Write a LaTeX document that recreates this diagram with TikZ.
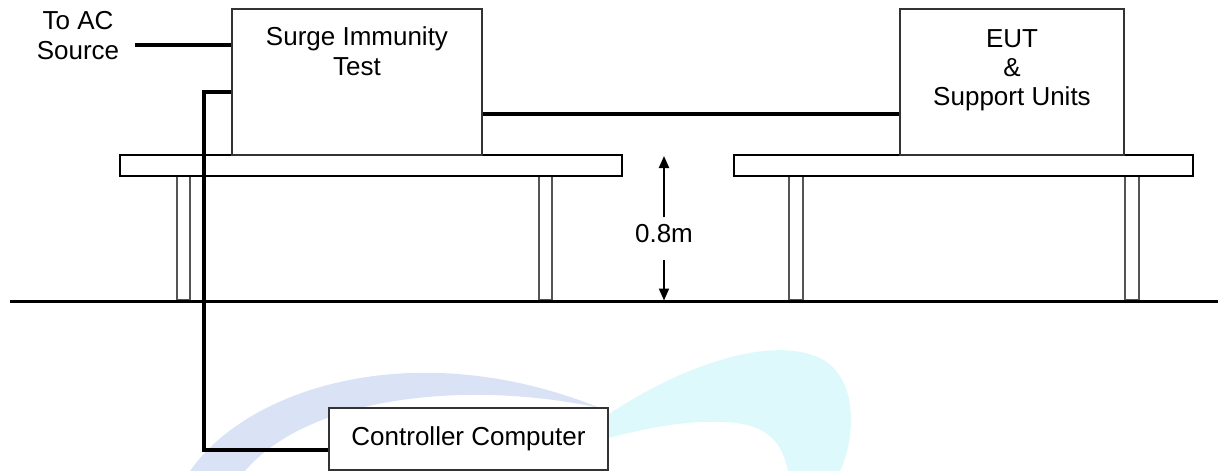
\documentclass[tikz,border=0pt]{standalone}
\usepackage{fontspec}
\setmainfont{Liberation Sans}
\usetikzlibrary{arrows.meta}
\definecolor{boxgray}{HTML}{333333}
\definecolor{leggray}{HTML}{555555}
\definecolor{wmblue}{HTML}{DAE3F6}
\definecolor{wmcyan}{HTML}{DEF9FC}
\begin{document}
\begin{tikzpicture}[x=0.75pt,y=-0.75pt,
  box/.style={draw=boxgray,line width=1.25pt,fill=white,inner sep=0pt},
  cable/.style={line width=2.4pt,black},
  tabletop/.style={draw=black,line width=1.5pt,fill=white},
  leg/.style={draw=leggray,line width=1pt,fill=white},
  lbl/.style={font=\fontsize{19.5}{22.5}\selectfont,align=center,inner sep=0pt},
  dim/.style={line width=1.5pt,-{Triangle[length=9pt,width=7.5pt]}}]
\useasboundingbox (0,0) rectangle (1218,471);
% watermark
\fill[wmblue] (190,471) .. controls (250,385) and (420,335) .. (600,408) .. controls (470,380) and (310,395) .. (245,471) -- cycle;
\fill[wmcyan] (600,420) .. controls (680,365) and (770,335) .. (820,358) .. controls (860,378) and (855,440) .. (840,471) -- (788,471) .. controls (782,440) and (765,424) .. (725,422) .. controls (680,420) and (640,430) .. (600,440) -- cycle;
% tables
\draw[leg] (177,176) rectangle (190,300);
\draw[leg] (539,176) rectangle (552,300);
\draw[leg] (789,176) rectangle (803,300);
\draw[leg] (1125,176) rectangle (1139,300);
\draw[tabletop] (120,155) rectangle (622,176);
\draw[tabletop] (734,155) rectangle (1193,176);
\draw[line width=2.25pt] (10,301.5) -- (1218,301.5);
% boxes
\node[box,minimum width=187.5pt,minimum height=109.5pt] (surge) at (357,82) {};
\node[lbl,anchor=north] (surgetxt) at (357,26) {Surge Immunity\\Test};
\node[box,minimum width=168pt,minimum height=109.5pt] (eut) at (1012,82) {};
\node[lbl,anchor=north,font=\fontsize{19.5}{21.75}\selectfont] (euttxt) at (1012,29.5) {EUT\\\&\\Support Units};
\node[box,lbl,minimum width=209.25pt,minimum height=46.5pt] (ctrl) at (468.5,439) {Controller Computer};
\node[lbl,anchor=north] (ac) at (78,11) {To AC\\Source};
% cables
\coordinate (acend) at (135,45);
\draw[cable] (acend) -- (acend -| surge.west);
\coordinate (cablebend) at (204,92);
\coordinate (cbot) at (204,450);
\draw[cable] (cablebend -| surge.west) -- (cablebend) -- (cbot) -- (cbot -| ctrl.west);
\coordinate (linkrow) at (0,114);
\draw[cable] (surge.east |- linkrow) -- (eut.west |- linkrow);
% dimension
\coordinate (dtop) at (664,156);
\coordinate (dbot) at (664,300.5);
\coordinate (d1) at (664,217);
\coordinate (d2) at (664,260);
\node[lbl] (dimtxt) at (664,234) {0.8m};
\draw[dim] (d1) -- (dtop);
\draw[dim] (d2) -- (dbot);
\end{tikzpicture}
\end{document}
